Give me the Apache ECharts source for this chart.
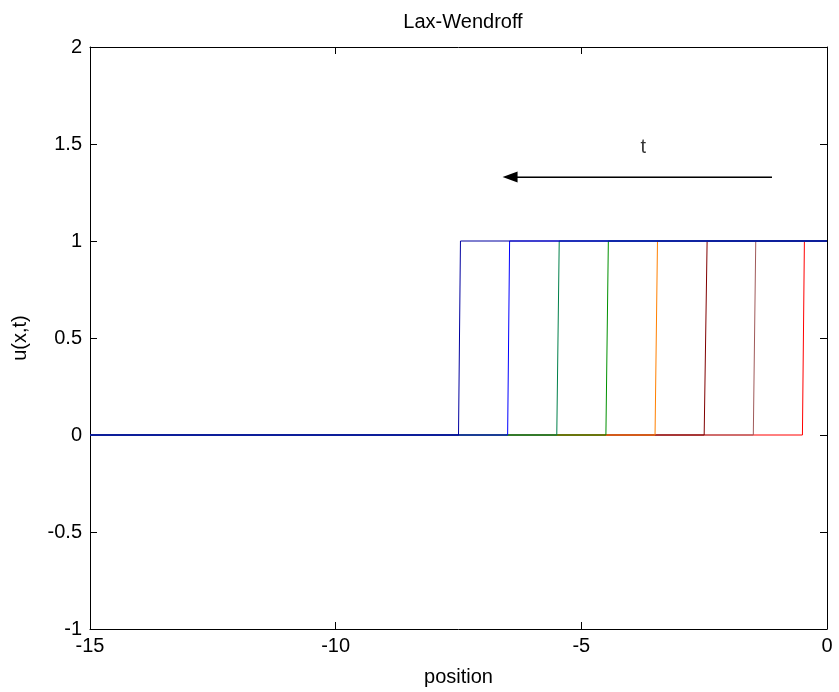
<!DOCTYPE html>
<html>
<head>
<meta charset="utf-8">
<script src="https://cdn.jsdelivr.net/npm/echarts@6/dist/echarts.min.js"></script>
<style>html,body{margin:0;padding:0;background:#fff}#c{width:839px;height:692px}</style>
</head>
<body>
<div id="c"></div>
<script>
// Step positions (bottom x, top x) of each time snapshot, earliest (right) to latest (left)
const stepBottom = [-0.5, -1.5, -2.5, -3.5, -4.5, -5.5, -6.5, -7.5];
const stepTop    = [-0.46, -1.45, -2.44, -3.45, -4.45, -5.45, -6.46, -7.46];
const seriesColors = ['#ff0000', '#a05a5a', '#800000', '#ff8000', '#009000', '#00804a', '#0000ff', '#0000a0'];
const xRange = [-15, 0];
const uLow = 0, uHigh = 1;
const xTicks = [-15, -10, -5, 0];
const yTicks = [-1, -0.5, 0, 0.5, 1, 1.5, 2];
const arrowFrom = [-1.12, 1.33];
const arrowTo = [-6.45, 1.33];
const tLabelPos = [-3.74, 1.48];

const font = 'Arial, "Liberation Sans", Helvetica, sans-serif';

const series = stepBottom.map((b, i) => ({
  type: 'line',
  xAxisIndex: 0, yAxisIndex: 0,
  data: [[xRange[0], uLow], [b, uLow], [stepTop[i], uHigh], [xRange[1], uHigh]],
  symbol: 'none',
  lineStyle: { color: seriesColors[i], width: 1 },
  itemStyle: { color: seriesColors[i] },
  animation: false,
  z: 2 + i
}));

series.push({
  type: 'line',
  data: [arrowFrom, arrowTo],
  symbol: 'none',
  lineStyle: { color: '#000', width: 1 },
  animation: false,
  markLine: {
    silent: true,
    symbol: ['none', 'triangle'],
    symbolSize: [11, 15],
    label: { show: false },
    lineStyle: { color: '#000', width: 1, type: 'solid' },
    data: [[{ coord: arrowFrom }, { coord: arrowTo }]],
    animation: false
  },
  z: 20
});

series.push({
  type: 'scatter',
  data: [tLabelPos],
  symbolSize: 0,
  label: { show: true, position: 'inside', formatter: 't', color: '#000', fontSize: 20, fontFamily: font },
  animation: false,
  z: 20
});

const axisCommon = {
  axisLine: { show: true, onZero: false, lineStyle: { color: '#000', width: 1 } },
  axisTick: { show: true, inside: true, length: 7, lineStyle: { color: '#000' } },
  splitLine: { show: false }
};

const option = {
  backgroundColor: '#fff',
  animation: false,
  title: {
    text: 'Lax-Wendroff', left: 458, top: 7, textAlign: 'center',
    textStyle: { fontSize: 20, fontWeight: 'normal', color: '#000', fontFamily: font }
  },
  grid: { left: 90, right: 12, top: 47, bottom: 63 },
  xAxis: [
    Object.assign({}, axisCommon, {
      type: 'value', position: 'bottom', min: xRange[0], max: xRange[1], interval: 5,
      name: 'position', nameLocation: 'middle', nameGap: 38,
      nameTextStyle: { fontSize: 20, color: '#000', fontFamily: font },
      axisLabel: { show: true, color: '#000', fontSize: 20, fontFamily: font, margin: 7,
        formatter: v => xTicks.includes(v) ? String(v) : '' }
    }),
    Object.assign({}, axisCommon, {
      type: 'value', position: 'top', min: xRange[0], max: xRange[1], interval: 5,
      axisLabel: { show: false }
    })
  ],
  yAxis: [
    Object.assign({}, axisCommon, {
      type: 'value', position: 'left', min: -1, max: 2, interval: 0.5,
      name: 'u(x,t)', nameLocation: 'middle', nameGap: 60, nameRotate: 90,
      nameTextStyle: { fontSize: 20, color: '#000', fontFamily: font },
      axisLabel: { show: true, color: '#000', fontSize: 20, fontFamily: font, margin: 8,
        formatter: v => yTicks.includes(v) ? String(v) : '' }
    }),
    Object.assign({}, axisCommon, {
      type: 'value', position: 'right', min: -1, max: 2, interval: 0.5,
      axisLabel: { show: false }
    })
  ],
  series: series
};

const chart = echarts.init(document.getElementById('c'), null, { renderer: 'canvas' });
chart.setOption(option);
</script>
</body>
</html>
